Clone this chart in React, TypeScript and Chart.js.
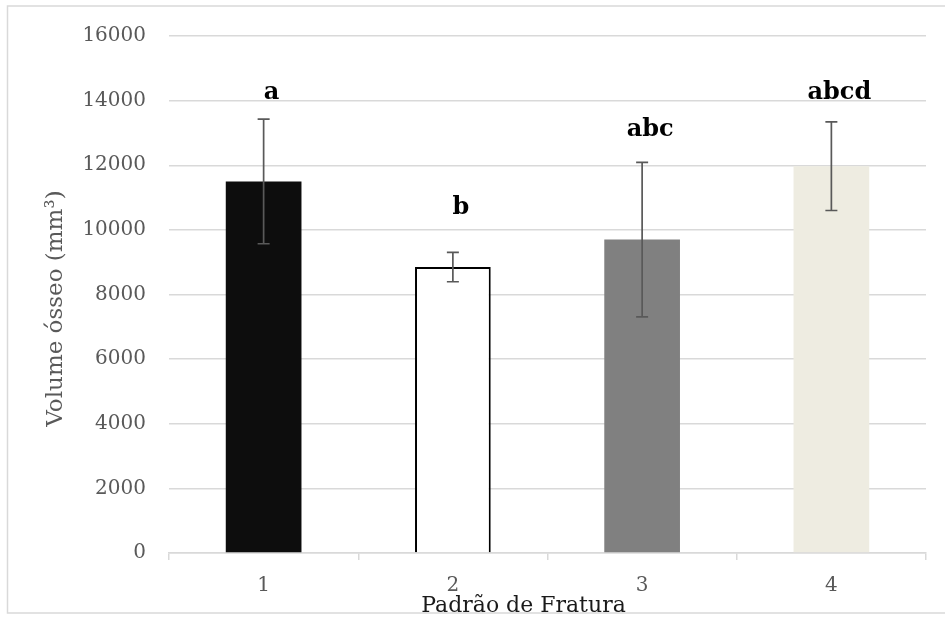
import { useEffect, useRef } from "react";
import { Chart, registerables } from "chart.js";

Chart.register(...registerables);

const categories = ["1", "2", "3", "4"];
const means = [11500, 8850, 9700, 11970];
const errors = [1930, 455, 2390, 1370];
const letters = ["a", "b", "abc", "abcd"];
const letterValues = [14250, 10680, 13090, 14240];
const yTickValues = [0, 2000, 4000, 6000, 8000, 10000, 12000, 14000, 16000];
const barColors = ["#0d0d0d", "#ffffff", "#808080", "#eeece1"];
const barBorderColors = ["#0d0d0d", "#000000", "#808080", "#eeece1"];
const barBorderWidths = [0, 2, 0, 0];
const yTitle = "Volume ósseo (mm³)";
const xTitle = "Padrão de Fratura";

const FONT = '"DejaVu Serif", serif';

const overlay = {
  id: "overlay",
  beforeDraw(chart: any) {
    const ctx = chart.ctx;
    ctx.save();
    ctx.strokeStyle = "#d9d9d9";
    ctx.lineWidth = 1.5;
    ctx.beginPath();
    ctx.moveTo(945, 6);
    ctx.lineTo(7.5, 6);
    ctx.lineTo(7.5, 613);
    ctx.lineTo(945, 613);
    ctx.stroke();
    ctx.restore();
  },
  afterDatasetsDraw(chart: any) {
    const ctx = chart.ctx;
    const y = chart.scales.y;
    const meta = chart.getDatasetMeta(0);
    const area = chart.chartArea;
    ctx.save();
    meta.data.forEach((bar: any, i: number) => {
      const x = bar.x;
      const top = y.getPixelForValue(means[i] + errors[i]);
      const bot = y.getPixelForValue(means[i] - errors[i]);
      ctx.strokeStyle = "#595959";
      ctx.lineWidth = 1.7;
      ctx.beginPath();
      ctx.moveTo(x, top);
      ctx.lineTo(x, bot);
      ctx.moveTo(x - 6, top);
      ctx.lineTo(x + 6, top);
      ctx.moveTo(x - 6, bot);
      ctx.lineTo(x + 6, bot);
      ctx.stroke();
      ctx.fillStyle = "#000000";
      ctx.font = `bold 24px ${FONT}`;
      ctx.textAlign = "center";
      ctx.textBaseline = "middle";
      ctx.fillText(letters[i], x + 8, y.getPixelForValue(letterValues[i]));
    });
    // x title
    ctx.fillStyle = "#1a1a1a";
    ctx.font = `22px ${FONT}`;
    ctx.textAlign = "center";
    ctx.textBaseline = "middle";
    ctx.fillText(xTitle, (area.left + area.right) / 2 - 24, 606);
    // y title
    ctx.save();
    ctx.translate(56, (area.top + area.bottom) / 2 + 14);
    ctx.rotate(-Math.PI / 2);
    ctx.fillStyle = "#595959";
    ctx.font = `23px ${FONT}`;
    ctx.fillText(yTitle, 0, 0);
    ctx.restore();
    ctx.restore();
  },
};

export default function App() {
  const ref = useRef<HTMLCanvasElement>(null);
  useEffect(() => {
    if (!ref.current) return;
    const chart = new Chart(ref.current, {
      type: "bar",
      data: {
        labels: categories,
        datasets: [
          {
            data: means,
            backgroundColor: barColors,
            borderColor: barBorderColors,
            borderWidth: barBorderWidths,
            categoryPercentage: 1,
            barPercentage: 0.4,
          },
        ],
      },
      options: {
        animation: false,
        responsive: true,
        maintainAspectRatio: false,
        layout: { padding: { top: 36, right: 19, left: 0, bottom: 0 } },
        plugins: { legend: { display: false }, tooltip: { enabled: false } },
        scales: {
          x: {
            grid: {
              drawOnChartArea: false,
              drawTicks: true,
              tickLength: 7,
              color: "#d9d9d9",
              lineWidth: 1.5,
            },
            border: { display: true, color: "#d9d9d9", width: 1.5 },
            ticks: { color: "#595959", font: { family: FONT, size: 20 }, padding: 14 },
            afterFit: (scale: any) => {
              scale.height = 68;
            },
          },
          y: {
            min: 0,
            max: 16000,
            afterBuildTicks: (scale: any) => {
              scale.ticks = yTickValues.map((v) => ({ value: v }));
            },
            grid: { color: "#d9d9d9", lineWidth: 1.5, drawTicks: false },
            border: { display: false },
            ticks: {
              color: "#595959",
              font: { family: FONT, size: 20 },
              padding: 23,
              callback: (v: any) => String(v),
            },
            afterFit: (scale: any) => {
              scale.width = 169;
            },
          },
        },
      },
      plugins: [overlay],
    });
    return () => chart.destroy();
  }, []);
  return (
    <div style={{ position: "fixed", left: 0, top: 0, width: 945, height: 621, background: "#fff" }}>
      <canvas ref={ref} />
    </div>
  );
}
